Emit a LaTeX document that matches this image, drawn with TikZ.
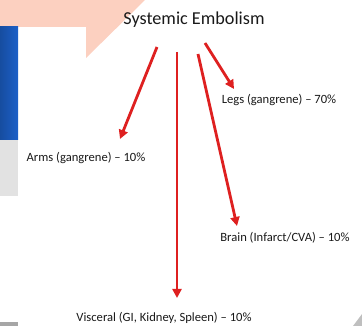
\documentclass[tikz,border=0pt]{standalone}
\usepackage{fontspec}
\setmainfont{Carlito}
\usetikzlibrary{arrows.meta}
\definecolor{embred}{RGB}{222,32,32}
\definecolor{peach}{RGB}{252,208,192}
\definecolor{slideblue}{RGB}{28,96,200}
\definecolor{slidegrey}{RGB}{226,226,226}
\begin{document}
\begin{tikzpicture}[x=1pt,y=-1pt,
	arr/.style={embred,line width=2.8pt,-{Triangle[length=9pt,width=9pt]}},
	lbl/.style={font=\fontsize{12.6}{14}\selectfont,text=black!90,inner sep=0pt}]
		\useasboundingbox (0,0) rectangle (362,326);
		% slide background
		\fill[peach] (0,0)--(145,0)--(86,58)--(86,27)--(0,27)--cycle;
		\fill[white] (18,27) rectangle (86,140);
		\shade[left color=slideblue!80!black,right color=slideblue] (0,27) rectangle (18,140);
		\fill[slidegrey] (0,140) rectangle (18,196);
		\fill[black!35] (0,322) rectangle (18,326);
		\fill[black!25] (362,314)--(362,326)--(353,326)--cycle;
		% labels
		\node[font=\fontsize{18.2}{21}\selectfont,text=black!90,inner sep=0pt] (title) at (194,20) {Systemic Embolism};
		\node[lbl] (legs) at (279,100) {Legs (gangrene) -- 70\%};
		\node[lbl] (arms) at (86,158) {Arms (gangrene) -- 10\%};
		\node[lbl] (brain) at (285,238) {Brain (Infarct/CVA) -- 10\%};
		\node[lbl] (visc) at (164,318) {Visceral (GI, Kidney, Spleen) -- 10\%};
		% arrows
		\coordinate (sA) at (157,47);
		\coordinate (sV) at (177,52);
		\coordinate (sB) at (198,54);
		\coordinate (sL) at (205,43);
		\coordinate (tA) at (120,139);
		\coordinate (tV) at (177,298);
		\coordinate (tB) at (237,226);
		\coordinate (tL) at (234,89);
		\draw[arr] (sA)--(tA);
		\draw[arr] (sV)--(tV);
		\draw[arr] (sB)--(tB);
		\draw[arr] (sL)--(tL);
	\end{tikzpicture}
\end{document}
